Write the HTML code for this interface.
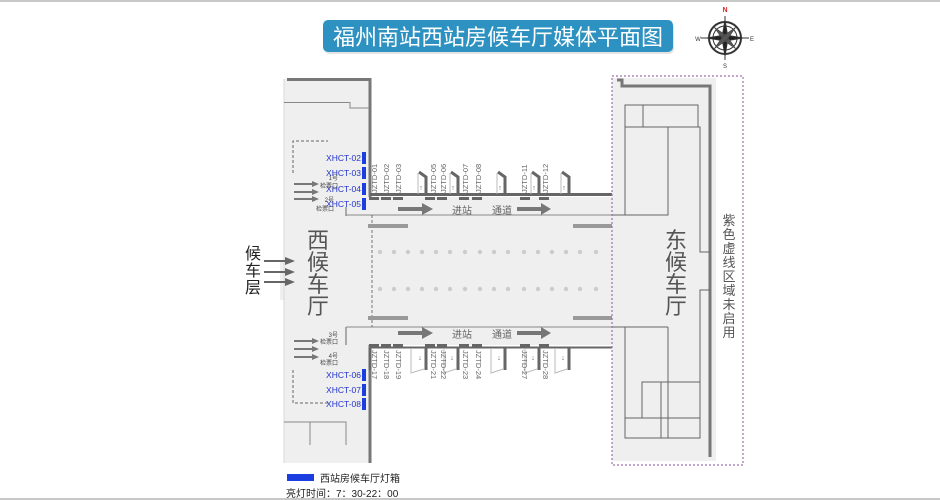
<!DOCTYPE html>
<html><head><meta charset="utf-8"><style>
html,body{margin:0;padding:0;background:#fff;}
svg{display:block;font-family:"Liberation Sans","Noto Sans CJK SC",sans-serif;}
</style></head><body>
<svg width="940" height="500" viewBox="0 0 940 500" xmlns="http://www.w3.org/2000/svg">
<rect x="0" y="0" width="940" height="500" fill="#fff"/>
<line x1="0" y1="1" x2="940" y2="1" stroke="#c8c8c8" stroke-width="2"/>
<line x1="0" y1="499" x2="940" y2="499" stroke="#c8c8c8" stroke-width="2"/>

<!-- title -->
<rect x="324" y="22" width="350" height="32" rx="5" fill="#d0d0d0" opacity="0.6"/>
<rect x="323" y="20" width="350" height="32" rx="5" fill="#2d92c1"/>
<text x="498" y="45" font-size="22" fill="#fff" text-anchor="middle">福州南站西站房候车厅媒体平面图</text>

<!-- compass -->
<g transform="translate(725,38)" stroke="#333" fill="none">
<circle r="16" stroke-width="2"/><circle r="12" stroke-width="1"/>
<line x1="-24" y1="0" x2="24" y2="0" stroke-width="1"/>
<line x1="0" y1="-22" x2="0" y2="22" stroke-width="1"/>
<polygon points="0,-18 3,0 0,18 -3,0" fill="#222"/>
<polygon points="-18,0 0,3 18,0 0,-3" fill="#222"/>
<polygon points="-11,-11 2,-2 11,11 -2,2" fill="#555" stroke-width="0.5"/>
<polygon points="11,-11 2,2 -11,11 -2,-2" fill="#555" stroke-width="0.5"/>
</g>
<text x="725" y="12" font-size="7" fill="#d22" text-anchor="middle" font-weight="bold">N</text>
<text x="725" y="68" font-size="6" fill="#333" text-anchor="middle">S</text>
<text x="698" y="41" font-size="6" fill="#333" text-anchor="middle">W</text>
<text x="752" y="41" font-size="6" fill="#333" text-anchor="middle">E</text>

<!-- west hall -->
<rect x="284" y="79" width="86" height="384" fill="#efefef"/>
<rect x="280" y="260" width="6" height="40" fill="#efefef"/>
<line x1="284" y1="79" x2="284" y2="463" stroke="#d8d8d8" stroke-width="1"/>
<polyline points="287,79.5 370,79.5 370,197" fill="none" stroke="#777" stroke-width="3"/>
<polyline points="370,345 370,463" fill="none" stroke="#777" stroke-width="3"/>
<polyline points="284,102.5 350,102.5 350,108 369,108" fill="none" stroke="#888" stroke-width="1"/>
<polyline points="293,173 293,141 328,141" fill="none" stroke="#666" stroke-width="1" stroke-dasharray="3,2"/>
<polyline points="293,370 293,403 328,403" fill="none" stroke="#666" stroke-width="1" stroke-dasharray="3,2"/>
<polyline points="284,422 346,422 346,445" fill="none" stroke="#888" stroke-width="1"/>
<line x1="310" y1="422" x2="310" y2="445" stroke="#888" stroke-width="1"/>
<line x1="346" y1="207" x2="346" y2="216" stroke="#666"/>
<line x1="346" y1="327" x2="346" y2="345" stroke="#666"/>

<!-- corridor band -->
<rect x="370" y="197" width="242" height="148" fill="#efefef"/>
<line x1="370" y1="194.5" x2="612" y2="194.5" stroke="#666" stroke-width="3"/>
<line x1="346" y1="215" x2="612" y2="215" stroke="#888" stroke-width="1"/>
<line x1="346" y1="327" x2="612" y2="327" stroke="#888" stroke-width="1"/>
<line x1="370" y1="347.5" x2="612" y2="347.5" stroke="#666" stroke-width="2"/>
<line x1="372" y1="215" x2="372" y2="327" stroke="#555" stroke-width="0.8" stroke-dasharray="3,2"/>
<rect x="368" y="224" width="40" height="4" fill="#999"/>
<rect x="573" y="224" width="40" height="4" fill="#999"/>
<rect x="368" y="316" width="40" height="4" fill="#999"/>
<rect x="573" y="316" width="40" height="4" fill="#999"/>
<g fill="#ccc">
<circle cx="380" cy="252" r="2.2"/><circle cx="394" cy="252" r="2.2"/><circle cx="408" cy="252" r="2.2"/><circle cx="422" cy="252" r="2.2"/><circle cx="436" cy="252" r="2.2"/><circle cx="450" cy="252" r="2.2"/><circle cx="465" cy="252" r="2.2"/><circle cx="480" cy="252" r="2.2"/><circle cx="494" cy="252" r="2.2"/><circle cx="508" cy="252" r="2.2"/><circle cx="524" cy="252" r="2.2"/><circle cx="538" cy="252" r="2.2"/><circle cx="552" cy="252" r="2.2"/><circle cx="566" cy="252" r="2.2"/><circle cx="580" cy="252" r="2.2"/><circle cx="596" cy="252" r="2.2"/>
<circle cx="380" cy="289" r="2.2"/><circle cx="394" cy="289" r="2.2"/><circle cx="408" cy="289" r="2.2"/><circle cx="422" cy="289" r="2.2"/><circle cx="436" cy="289" r="2.2"/><circle cx="450" cy="289" r="2.2"/><circle cx="465" cy="289" r="2.2"/><circle cx="480" cy="289" r="2.2"/><circle cx="494" cy="289" r="2.2"/><circle cx="508" cy="289" r="2.2"/><circle cx="524" cy="289" r="2.2"/><circle cx="538" cy="289" r="2.2"/><circle cx="552" cy="289" r="2.2"/><circle cx="566" cy="289" r="2.2"/><circle cx="580" cy="289" r="2.2"/><circle cx="596" cy="289" r="2.2"/>
</g>

<!-- top panels -->
<g fill="none" stroke="#666" stroke-width="3">
<polyline points="419,172 426,177 426,194"/><polyline points="451,172 458,177 458,194"/><polyline points="498,172 505,177 505,194"/><polyline points="532,172 539,177 539,194"/><polyline points="562,172 569,177 569,194"/>
</g>
<g stroke="#bbb" stroke-width="1"><line x1="418" y1="173" x2="418" y2="194"/><line x1="450" y1="173" x2="450" y2="194"/><line x1="497" y1="173" x2="497" y2="194"/><line x1="531" y1="173" x2="531" y2="194"/><line x1="561" y1="173" x2="561" y2="194"/></g>
<g font-size="7" fill="#555" text-anchor="middle"><text x="421" y="190">↑</text><text x="453" y="190">↑</text><text x="500" y="190">↑</text><text x="534" y="190">↑</text><text x="564" y="190">↑</text></g>
<g fill="#666"><rect x="369" y="197" width="10" height="3"/><rect x="381" y="197" width="10" height="3"/><rect x="393" y="197" width="10" height="3"/><rect x="425" y="197" width="10" height="3"/><rect x="437" y="197" width="10" height="3"/><rect x="459" y="197" width="10" height="3"/><rect x="472" y="197" width="10" height="3"/><rect x="520" y="197" width="10" height="3"/><rect x="539" y="197" width="10" height="3"/></g>
<g font-size="7.5" fill="#666">
<text transform="translate(377,193) rotate(-90)">JZTD-01</text><text transform="translate(389,193) rotate(-90)">JZTD-02</text><text transform="translate(401,193) rotate(-90)">JZTD-03</text><text transform="translate(436,193) rotate(-90)">JZTD-05</text><text transform="translate(446,193) rotate(-90)">JZTD-06</text><text transform="translate(468,193) rotate(-90)">JZTD-07</text><text transform="translate(481,193) rotate(-90)">JZTD-08</text><text transform="translate(527,193) rotate(-90)">JZTD-11</text><text transform="translate(548,193) rotate(-90)">JZTD-12</text>
</g>
<!-- arrows -->
<g fill="#777"><rect x="398" y="207" width="24" height="4"/><polygon points="422,203 433,209 422,215"/><rect x="517" y="207" width="24" height="4"/><polygon points="541,203 551,209 541,215"/>
<rect x="398" y="331" width="24" height="4"/><polygon points="422,327 433,333 422,339"/><rect x="517" y="331" width="24" height="4"/><polygon points="541,327 551,333 541,339"/></g>
<g font-size="10" fill="#666"><text x="452" y="214">进站</text><text x="492" y="214">通道</text><text x="452" y="338">进站</text><text x="492" y="338">通道</text></g>

<!-- bottom panels -->
<g stroke="#666" stroke-width="3"><line x1="426" y1="348" x2="426" y2="370"/><line x1="458" y1="348" x2="458" y2="370"/><line x1="505" y1="348" x2="505" y2="370"/><line x1="539" y1="348" x2="539" y2="370"/><line x1="569" y1="348" x2="569" y2="370"/><line x1="370" y1="348" x2="370" y2="370"/></g>
<g fill="none" stroke="#bbb" stroke-width="1"><polyline points="411,349 411,373 424,369"/><polyline points="444,349 444,373 456,369"/><polyline points="491,349 491,373 503,369"/><polyline points="525,349 525,373 537,369"/><polyline points="555,349 555,373 567,369"/></g>
<g font-size="7" fill="#555" text-anchor="middle"><text x="420" y="360">↓</text><text x="452" y="360">↓</text><text x="499" y="360">↓</text><text x="533" y="360">↓</text><text x="563" y="360">↓</text></g>
<g fill="#666"><rect x="369" y="344" width="10" height="3"/><rect x="381" y="344" width="10" height="3"/><rect x="393" y="344" width="10" height="3"/><rect x="425" y="344" width="10" height="3"/><rect x="437" y="344" width="10" height="3"/><rect x="459" y="344" width="10" height="3"/><rect x="472" y="344" width="10" height="3"/><rect x="520" y="344" width="10" height="3"/><rect x="539" y="344" width="10" height="3"/></g>
<g font-size="7.5" fill="#666">
<text transform="translate(372,350) rotate(90)">JZTD-17</text><text transform="translate(384,350) rotate(90)">JZTD-18</text><text transform="translate(396,350) rotate(90)">JZTD-19</text><text transform="translate(431,350) rotate(90)">JZTD-21</text><text transform="translate(441,350) rotate(90)">JZTD-22</text><text transform="translate(463,350) rotate(90)">JZTD-23</text><text transform="translate(476,350) rotate(90)">JZTD-24</text><text transform="translate(522,350) rotate(90)">JZTD-27</text><text transform="translate(543,350) rotate(90)">JZTD-28</text>
</g>

<!-- west light boxes -->
<g fill="#1a3ee0"><rect x="362" y="152" width="4" height="12"/><rect x="362" y="167" width="4" height="12"/><rect x="362" y="183" width="4" height="12"/><rect x="362" y="198" width="4" height="12"/><rect x="362" y="369" width="4" height="12"/><rect x="362" y="384" width="4" height="12"/><rect x="362" y="398" width="4" height="12"/></g>
<g font-size="8.5" fill="#2233cc" text-anchor="end"><text x="361" y="161">XHCT-02</text><text x="361" y="176">XHCT-03</text><text x="361" y="192">XHCT-04</text><text x="361" y="207">XHCT-05</text><text x="361" y="378">XHCT-06</text><text x="361" y="393">XHCT-07</text><text x="361" y="407">XHCT-08</text></g>
<g font-size="6" fill="#444" text-anchor="end"><text x="338" y="180">1号</text><text x="338" y="188">检票口</text><text x="334" y="202">2号</text><text x="334" y="211">检票口</text><text x="338" y="337">3号</text><text x="338" y="344">检票口</text><text x="338" y="358">4号</text><text x="338" y="365">检票口</text></g>
<g fill="#777"><rect x="294" y="183" width="18" height="2"/><polygon points="312,181 319,184 312,187"/><rect x="294" y="191" width="18" height="2"/><polygon points="312,189 319,192 312,195"/><rect x="294" y="198" width="18" height="2"/><polygon points="312,196 319,199 312,202"/>
<rect x="294" y="340" width="18" height="2"/><polygon points="312,338 319,341 312,344"/><rect x="294" y="348" width="18" height="2"/><polygon points="312,346 319,349 312,352"/><rect x="294" y="356" width="18" height="2"/><polygon points="312,354 319,357 312,360"/></g>

<!-- waiting layer -->
<g font-size="16" fill="#222" text-anchor="middle"><text x="253" y="259">候</text><text x="253" y="276">车</text><text x="253" y="293">层</text></g>
<g fill="#666"><rect x="264" y="260" width="22" height="2"/><polygon points="285,257 295,261 285,265"/><rect x="264" y="271" width="22" height="2"/><polygon points="285,268 295,272 285,276"/><rect x="264" y="281" width="22" height="2"/><polygon points="285,278 295,282 285,286"/></g>
<g font-size="22" fill="#555" text-anchor="middle"><text x="318" y="248">西</text><text x="318" y="270">候</text><text x="318" y="292">车</text><text x="318" y="314">厅</text></g>

<!-- east hall -->
<rect x="612" y="78" width="104" height="383" fill="#efefef"/>
<polyline points="617,80 622,80 622,86 710,86 710,457" fill="none" stroke="#777" stroke-width="3"/>
<g fill="none" stroke="#666" stroke-width="1">
<rect x="625" y="105" width="73" height="22"/><line x1="643" y1="105" x2="643" y2="127"/>
<polyline points="625,127 625,215 668,215 668,127"/>
<polyline points="612,215 625,215"/><polyline points="612,327 625,327"/>
<polyline points="710,252 700,252 700,127 698,127"/>
<polyline points="710,290 700,290 700,382"/>
<polyline points="625,327 625,438 700,438 700,418 625,418"/>
<line x1="668" y1="327" x2="668" y2="438"/><line x1="625" y1="327" x2="668" y2="327"/>
<rect x="642" y="382" width="58" height="36"/><line x1="661" y1="382" x2="661" y2="438"/>
</g>
<rect x="612" y="76" width="131" height="389" fill="none" stroke="#a070b0" stroke-width="1.2" stroke-dasharray="2,2"/>
<g font-size="22" fill="#555" text-anchor="middle"><text x="676" y="248">东</text><text x="676" y="270">候</text><text x="676" y="292">车</text><text x="676" y="314">厅</text></g>
<g font-size="13" fill="#555" text-anchor="middle"><text x="729" y="225">紫</text><text x="729" y="239">色</text><text x="729" y="253">虚</text><text x="729" y="267">线</text><text x="729" y="281">区</text><text x="729" y="295">域</text><text x="729" y="309">未</text><text x="729" y="323">启</text><text x="729" y="337">用</text></g>

<!-- legend -->
<rect x="287" y="474" width="27" height="7" fill="#1a3ee0"/>
<text x="320" y="482" font-size="10" fill="#222">西站房候车厅灯箱</text>
<text x="286" y="497" font-size="10" fill="#222">亮灯时间：7：30-22：00</text>
</svg>
</body></html>
